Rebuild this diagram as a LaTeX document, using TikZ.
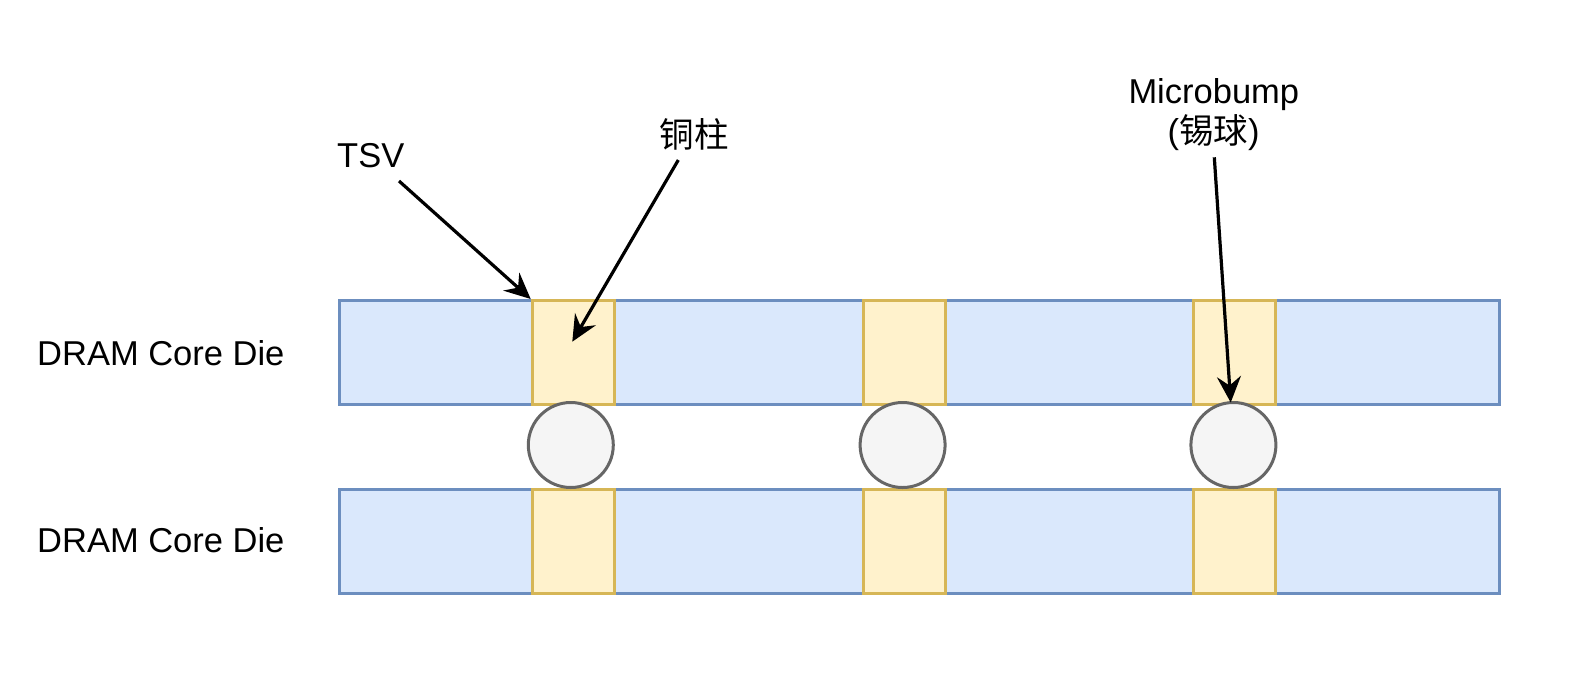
\documentclass[tikz,border=0pt]{standalone}
\usepackage{fontspec}
\setmainfont{Liberation Sans}
\newfontfamily\cjk{Noto Sans CJK SC}
\usetikzlibrary{arrows.meta}
\definecolor{dieFill}{HTML}{DAE8FC}
\definecolor{dieLine}{HTML}{6C8EBF}
\definecolor{tsvFill}{HTML}{FFF2CC}
\definecolor{tsvLine}{HTML}{D6B656}
\definecolor{ballFill}{HTML}{F5F5F5}
\definecolor{ballLine}{HTML}{666666}
\tikzset{
  diebox/.style={draw=dieLine, fill=dieFill, line width=3pt, minimum width=1160pt, minimum height=104pt, inner sep=0pt, anchor=north west},
  tsvbox/.style={draw=tsvLine, fill=tsvFill, line width=3pt, minimum width=82pt, minimum height=104pt, inner sep=0pt, anchor=north west},
  ballnode/.style={circle, draw=ballLine, fill=ballFill, line width=3pt, minimum size=85pt, inner sep=0pt},
  lbl/.style={font=\fontsize{34.5}{40}\selectfont, inner sep=0pt, text=black},
  pointer/.style={line width=3.2pt, draw=black, -{Stealth[length=26pt,width=24pt,inset=9pt]}}
}
\begin{document}
\begin{tikzpicture}[x=1pt,y=-1pt]
\useasboundingbox (0,0) rectangle (1592,694);
% dies
\node[diebox] (die1) at (337.5,299) {};
\node[diebox] (die2) at (337.5,487.7) {};
% TSV / copper pillars
\node[tsvbox] (t1) at (530.7,299) {};
\node[tsvbox] (t2) at (861.7,299) {};
\node[tsvbox] (t3) at (1192.3,299) {};
\node[tsvbox] (b1) at (530.7,487.7) {};
\node[tsvbox] (b2) at (861.7,487.7) {};
\node[tsvbox] (b3) at (1192.3,487.7) {};
% microbumps
\node[ballnode] (m1) at (570.8,445) {};
\node[ballnode] (m2) at (902.6,445) {};
\node[ballnode] (m3) at (1233.4,445) {};
% labels
\node[lbl, anchor=base west] (l1) at (37,365) {DRAM Core Die};
\node[lbl, anchor=base west] (l2) at (37,552.3) {DRAM Core Die};
\node[lbl, anchor=base west] (tsv) at (337,167.3) {TSV};
\node[lbl, anchor=base] (cu) at (694,147) {\cjk 铜柱};
\node[lbl, anchor=base] (mb) at (1213.8,103.3) {Microbump};
\node[lbl, anchor=base] (mb2) at (1213.6,143.8) {({\cjk 锡球})};
% arrow ends
\coordinate (tsvS) at (399,181);
\coordinate (cuS) at (678.3,160);
\coordinate (cuE) at (572.3,341.7);
\coordinate (mbS) at (1214.3,157.3);
\coordinate (mbE) at (1230.7,402.5);
\draw[pointer] (tsvS) -- (t1.north west);
\draw[pointer] (cuS) -- (cuE);
\draw[pointer] (mbS) -- (mbE);
\end{tikzpicture}
\end{document}
